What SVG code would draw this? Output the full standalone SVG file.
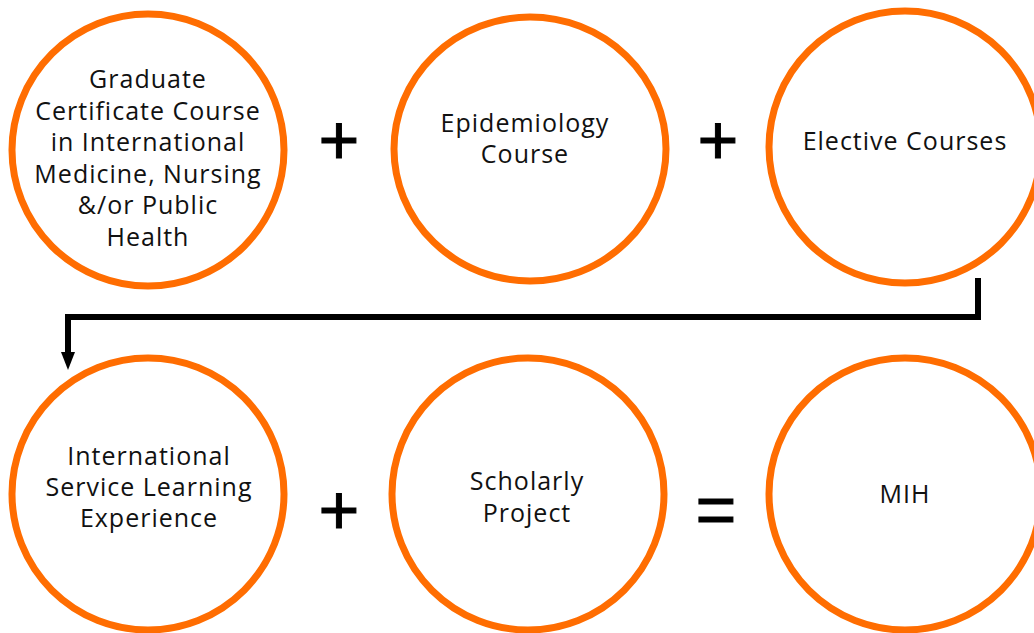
<svg xmlns="http://www.w3.org/2000/svg" width="1034" height="633" viewBox="0 0 1034 633">
<style>
.c{fill:#fff;stroke:#ff6d01;stroke-width:7}
.t{font-family:"Open Sans",Lato,sans-serif;font-size:25px;letter-spacing:1px;fill:#111;text-anchor:middle}
.op{font-family:"Liberation Sans",Arial,sans-serif;font-size:70px;fill:#000;stroke:#000;stroke-width:1;text-anchor:middle}
.conn{fill:none;stroke:#000;stroke-width:6}
</style>
<rect width="1034" height="633" fill="#fff"/>
<g id="connectors">
<path class="conn" d="M978,278 V317 H68 V352"/>
<path d="M61,352 L75,352 L68,370 Z" fill="#000"/>
</g>
<g id="n1">
<circle class="c" cx="148" cy="150" r="136"/>
<text class="t"><tspan x="148" y="88">Graduate</tspan><tspan x="148" y="120">Certificate Course</tspan><tspan x="148" y="151">in International</tspan><tspan x="148" y="183">Medicine, Nursing</tspan><tspan x="148" y="214">&amp;/or Public</tspan><tspan x="148" y="246">Health</tspan></text>
</g>
<g id="n2">
<ellipse class="c" cx="530" cy="149" rx="136" ry="132"/>
<text class="t"><tspan x="525" y="132">Epidemiology</tspan><tspan x="525" y="163">Course</tspan></text>
</g>
<g id="n3">
<circle class="c" cx="905" cy="147" r="136"/>
<text class="t" x="905" y="150">Elective Courses</text>
</g>
<g id="n4">
<circle class="c" cx="148" cy="494" r="136"/>
<text class="t"><tspan x="149" y="465">International</tspan><tspan x="149" y="496">Service Learning</tspan><tspan x="149" y="527">Experience</tspan></text>
</g>
<g id="n5">
<ellipse class="c" cx="528" cy="494" rx="136" ry="136"/>
<text class="t"><tspan x="527" y="490">Scholarly</tspan><tspan x="527" y="522">Project</tspan></text>
</g>
<g id="n6">
<circle class="c" cx="905" cy="494" r="136"/>
<text class="t" x="905" y="503">MIH</text>
</g>
<g id="ops">
<text class="op" x="339" y="164">+</text>
<text class="op" x="718" y="164">+</text>
<text class="op" x="339" y="534">+</text>
<text class="op" x="716" y="534">=</text>
</g>
</svg>
